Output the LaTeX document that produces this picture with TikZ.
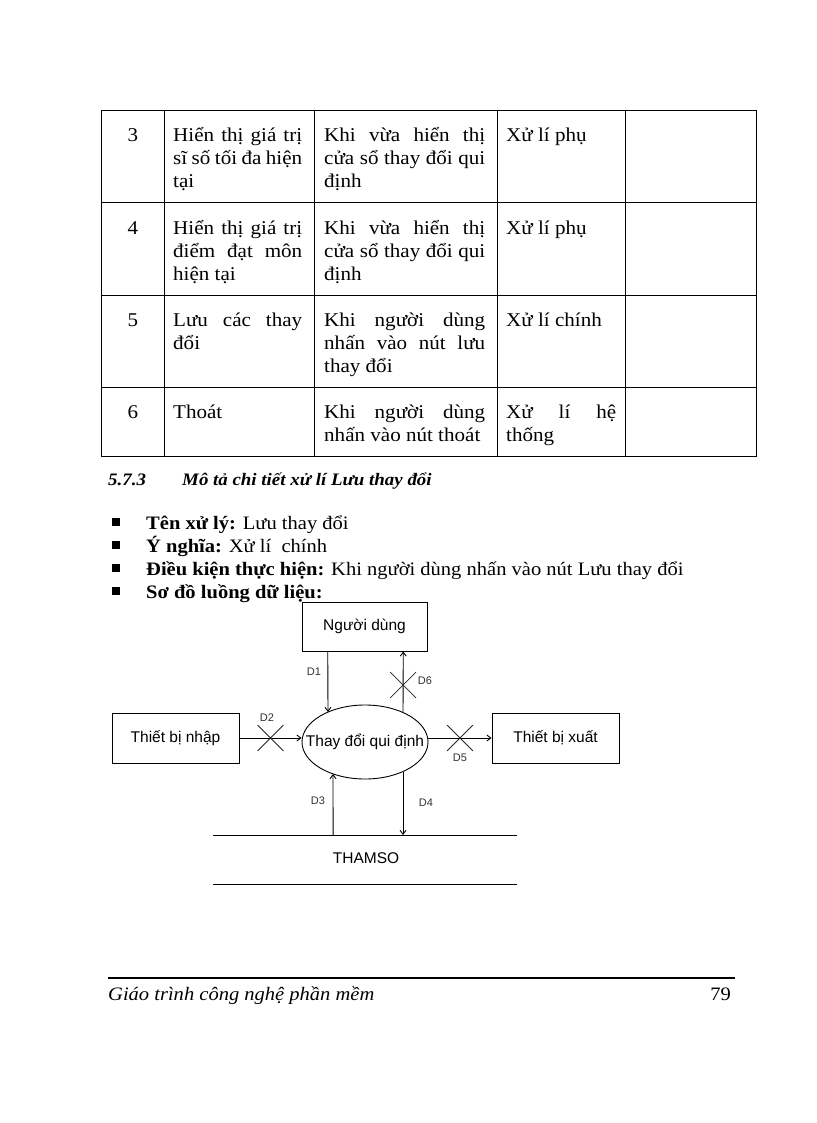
\documentclass[tikz,border=0pt]{standalone}
\usepackage{fontspec}
\setmainfont{Liberation Serif}[FakeStretch=1.08]
\setsansfont{Liberation Sans}
\usetikzlibrary{shapes.geometric,shapes.misc,calc,arrows.meta}
\newcommand\justline[2]{\makebox[#1pt][s]{#2}}
\begin{document}
\begin{tikzpicture}[x=1pt,y=-1pt,
  tabline/.style={draw=black,line width=1pt},
  tl/.style={anchor=base west,inner sep=0,font=\fontsize{19.5}{23}\selectfont},
  num/.style={anchor=base,inner sep=0,font=\fontsize{19.5}{23}\selectfont},
  bl/.style={anchor=base west,inner sep=0,font=\fontsize{19}{23}\selectfont},
  bsq/.style={fill=black,inner sep=0,minimum size=7.5pt},
  box/.style={draw=black,line width=0.9pt,inner sep=0,font=\sffamily\fontsize{15.5}{18}\selectfont},
  dl/.style={inner sep=0,font=\sffamily\fontsize{11}{13}\selectfont,text=black!80},
  xmark/.style={cross out,draw=black!85,line width=0.8pt,inner sep=0,minimum size=25pt},
  arr/.style={draw=black,line width=0.9pt,-{Straight Barb[length=4pt,width=6pt]}},
  flow/.style={draw=black,line width=0.9pt}]
\useasboundingbox[fill=white] (0,0) rectangle (816,1123);

% ---- table ----
\draw[tabline] (101,111) rectangle (756,456);
\foreach \yy in {203,295,387} \draw[tabline] (101,\yy) -- (756,\yy);
\foreach \xx in {164,314,497,625} \draw[tabline] (\xx,111) -- (\xx,456);

% row 3
\node[num] (n3) at (133,142) {3};
\node[tl] (r3a1) at (173,142) {\justline{129}{Hiển thị giá trị}};
\node[tl] (r3a2) at (173,165) {\justline{129}{sĩ số tối đa hiện}};
\node[tl] (r3a3) at (173,188) {tại};
\node[tl] (r3b1) at (324,142) {\justline{161}{Khi vừa hiển thị}};
\node[tl] (r3b2) at (324,165) {\justline{161}{cửa sổ thay đổi qui}};
\node[tl] (r3b3) at (324,188) {định};
\node[tl] (r3c1) at (506,142) {Xử lí phụ};
% row 4
\node[num] (n4) at (133,234) {4};
\node[tl] (r4a1) at (173,234) {\justline{129}{Hiển thị giá trị}};
\node[tl] (r4a2) at (173,257) {\justline{129}{điểm đạt môn}};
\node[tl] (r4a3) at (173,280) {hiện tại};
\node[tl] (r4b1) at (324,234) {\justline{161}{Khi vừa hiển thị}};
\node[tl] (r4b2) at (324,257) {\justline{161}{cửa sổ thay đổi qui}};
\node[tl] (r4b3) at (324,280) {định};
\node[tl] (r4c1) at (506,234) {Xử lí phụ};
% row 5
\node[num] (n5) at (133,326) {5};
\node[tl] (r5a1) at (173,326) {\justline{129}{Lưu các thay}};
\node[tl] (r5a2) at (173,349) {đổi};
\node[tl] (r5b1) at (324,326) {\justline{161}{Khi người dùng}};
\node[tl] (r5b2) at (324,349) {\justline{161}{nhấn vào nút lưu}};
\node[tl] (r5b3) at (324,372) {thay đổi};
\node[tl] (r5c1) at (506,326) {Xử lí chính};
% row 6
\node[num] (n6) at (133,418) {6};
\node[tl] (r6a1) at (173,418) {Thoát};
\node[tl] (r6b1) at (324,418) {\justline{161}{Khi người dùng}};
\node[tl] (r6b2) at (324,441) {nhấn vào nút thoát};
\node[tl] (r6c1) at (506,418) {\justline{110}{Xử lí hệ}};
\node[tl] (r6c2) at (506,441) {thống};

% ---- heading ----
\node[anchor=base west,inner sep=0,font=\bfseries\itshape\fontsize{17.5}{20}\selectfont] (hnum) at (108,485) {5.7.3};
\node[anchor=base west,inner sep=0,font=\bfseries\itshape\fontsize{17.5}{20}\selectfont] (htit) at (182,485) {Mô tả chi tiết xử lí Lưu thay đổi};

% ---- bullets ----
\node[bsq] (b1) at (116,522) {};
\node[bsq] (b2) at (116,545) {};
\node[bsq] (b3) at (116,568) {};
\node[bsq] (b4) at (116,591) {};
\node[bl] (t1) at (146,529) {\textbf{Tên xử lý:} Lưu thay đổi};
\node[bl] (t2) at (146,552) {\textbf{Ý nghĩa:} Xử lí \ chính};
\node[bl] (t3) at (146,575) {\textbf{Điều kiện thực hiện:} Khi người dùng nhấn vào nút Lưu thay đổi};
\node[bl] (t4) at (146,598) {\textbf{Sơ đồ luồng dữ liệu:}};

% ---- diagram ----
\node[box,minimum width=125pt,minimum height=49pt] (nguoi) at (364.5,626.5) {Người dùng};
\node[box,minimum width=127pt,minimum height=50pt] (nhap) at (175.5,738) {Thiết bị nhập};
\node[box,minimum width=127pt,minimum height=50pt] (xuat) at (555.5,738) {Thiết bị xuất};
\node[ellipse,draw=black,line width=0.9pt,minimum width=126pt,minimum height=74pt,inner sep=0] (ell) at (365,742) {};
\node[inner sep=0,font=\sffamily\fontsize{15.5}{18}\selectfont] (elltext) at (ell.center) {Thay đổi qui định};

\coordinate (s1l) at (213,835);
\coordinate (s1r) at (517,835);
\coordinate (s2l) at (213,884);
\coordinate (s2r) at (517,884);
\draw[flow] (s1l) -- (s1r);
\draw[flow] (s2l) -- (s2r);
\node[inner sep=0,font=\sffamily\fontsize{15.5}{18}\selectfont] (thamso) at (366,858) {THAMSO};

% D1
\coordinate (d1a) at ($(nguoi.south west)!0.208!(nguoi.south east)$);
\coordinate (d1b) at ($(ell.center)+(-37,-30)$);
\draw[arr] (d1a) -- (d1b);
% D6
\coordinate (d6a) at ($(ell.center)+(38,-29.5)$);
\coordinate (d6b) at ($(nguoi.south west)!0.808!(nguoi.south east)$);
\draw[arr] (d6a) -- (d6b);
\node[xmark] (x6) at ($(d6a)!0.45!(d6b)$) {};
% D2
\coordinate (d2b) at (ell.west |- nhap.east);
\draw[arr] (nhap.east) -- (d2b);
\node[xmark] (x2) at ($(nhap.east)!0.5!(d2b)$) {};
% D5
\coordinate (d5a) at (ell.east |- xuat.west);
\draw[arr] (d5a) -- (xuat.west);
\node[xmark] (x5) at ($(d5a)!0.5!(xuat.west)$) {};
% D3
\coordinate (d3a) at ($(s1l)!0.395!(s1r)$);
\coordinate (d3b) at ($(ell.center)+(-32,32)$);
\draw[arr] (d3a) -- (d3b);
% D4
\coordinate (d4a) at ($(ell.center)+(38,29.5)$);
\coordinate (d4b) at ($(s1l)!0.625!(s1r)$);
\draw[arr] (d4a) -- (d4b);

\node[dl] (l1) at (314,672) {D1};
\node[dl] (l6) at (425,681) {D6};
\node[dl] (l2) at (267,718) {D2};
\node[dl] (l5) at (460,758) {D5};
\node[dl] (l3) at (318,801) {D3};
\node[dl] (l4) at (426,803) {D4};

% ---- footer ----
\coordinate (fl) at (108,978);
\coordinate (fr) at (735,978);
\draw[draw=black,line width=1.2pt] (fl) -- (fr);
\node[anchor=base west,inner sep=0,font=\itshape\fontsize{19}{23}\selectfont] (ftext) at (108,1000) {Giáo trình công nghệ phần mềm};
\node[anchor=base east,inner sep=0,font=\fontsize{19}{23}\selectfont] (fpage) at (731,1000) {79};
\end{tikzpicture}
\end{document}
